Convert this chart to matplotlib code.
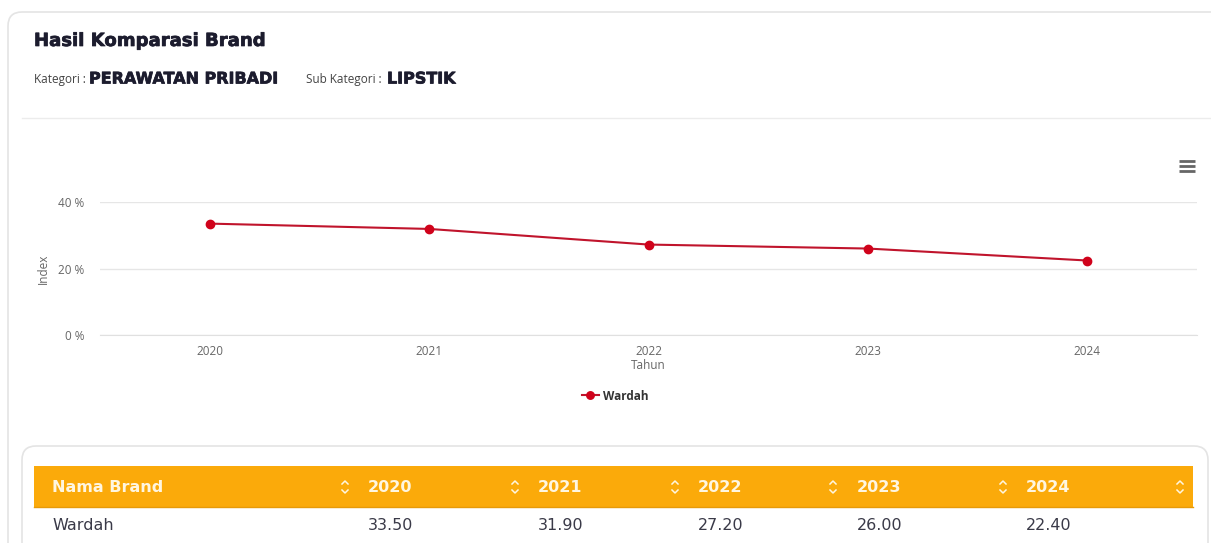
import matplotlib
matplotlib.use("Agg")
import matplotlib.pyplot as plt
import matplotlib.patheffects as pe
from matplotlib.patches import FancyBboxPatch, Rectangle

years = ["2020", "2021", "2022", "2023", "2024"]
brand = "Wardah"
values = [33.50, 31.90, 27.20, 26.00, 22.40]
y_ticks = [0, 20, 40]

W, H = 1211, 543
fig = plt.figure(figsize=(W / 100, H / 100), dpi=100)
fig.patch.set_facecolor("white")

# overlay axes in pixel coordinates for the card decorations and the table
bg = fig.add_axes([0, 0, 1, 1])
bg.set_xlim(0, W)
bg.set_ylim(H, 0)
bg.axis("off")

card = FancyBboxPatch((8, 12), 1300, 600, boxstyle="round,pad=0,rounding_size=14",
                      fc="white", ec="#e4e4e4", lw=1.2)
bg.add_patch(card)
bg.plot([22, 1211], [118, 118], color="#ececec", lw=1)

heavy = [pe.withStroke(linewidth=0.5, foreground="#1c1c2e")]
bg.text(34, 41, "Hasil Komparasi Brand", fontsize=13, fontweight="bold",
        family="DejaVu Sans", color="#1c1c2e", va="center", path_effects=heavy)
bg.text(34, 79, "Kategori : ", fontsize=8.5, family="Open Sans", color="#444", va="center")
bg.text(89, 79, "PERAWATAN PRIBADI", fontsize=11.5, fontweight="bold",
        family="DejaVu Sans", color="#1c1c2e", va="center", path_effects=heavy)
bg.text(306, 79, "Sub Kategori : ", fontsize=8.5, family="Open Sans", color="#444", va="center")
bg.text(387, 79, "LIPSTIK", fontsize=11.5, fontweight="bold",
        family="DejaVu Sans", color="#1c1c2e", va="center", path_effects=heavy)

# hamburger menu
for yy in (161, 166, 171):
    bg.plot([1179, 1195], [yy, yy], color="#666666", lw=2, solid_capstyle="butt")

# chart
ax = fig.add_axes([100 / W, 1 - 335 / H, (1197 - 100) / W, (335 - 202) / H])
xs = list(range(len(years)))
ax.plot(xs, values, color="#c0142c", lw=1.5, marker="o", ms=6,
        mfc="#d0021b", mec="#d0021b", label=brand, zorder=3)
ax.set_xlim(-0.5, len(years) - 0.5)
ax.set_ylim(0, 40)
ax.set_yticks(y_ticks)
ax.set_yticklabels([f"{t} %" for t in y_ticks])
ax.set_xticks(xs)
ax.set_xticklabels(years)
ax.grid(axis="y", color="#e6e6e6", lw=1)
ax.set_axisbelow(True)
for s in ["top", "right", "left"]:
    ax.spines[s].set_visible(False)
ax.spines["bottom"].set_color("#e0e0e0")
ax.tick_params(axis="both", length=0, labelsize=8.5, labelcolor="#666666")
ax.tick_params(axis="x", pad=7)
ax.tick_params(axis="y", pad=11)
for lab in ax.get_xticklabels() + ax.get_yticklabels():
    lab.set_family("Open Sans")
ax.set_xlabel("Tahun", fontsize=8.5, color="#666666", family="Open Sans", labelpad=1)
ax.set_ylabel("Index", fontsize=8.5, color="#666666", family="Open Sans", labelpad=6)
ax.set_facecolor("none")
leg = ax.legend(loc="upper center", bbox_to_anchor=(0.47, -0.33), frameon=False,
                handlelength=1.4, handletextpad=0.4, markerscale=0.9,
                prop={"family": "Open Sans", "weight": "bold", "size": 8.5})
for t in leg.get_texts():
    t.set_color("#333333")

# table card
tcard = FancyBboxPatch((22, 446), 1186, 200, boxstyle="round,pad=0,rounding_size=14",
                       fc="white", ec="#e4e4e4", lw=1.2)
bg.add_patch(tcard)
bg.add_patch(Rectangle((34, 466), 1159, 41, fc="#fbaa0a", ec="none"))
bg.plot([34, 1193], [507, 507], color="#e79a08", lw=1)

header = ["Nama Brand"] + years
col_x = [52, 368, 538, 698, 857, 1026]
icon_x = [345, 515, 675, 833, 1003, 1180]
for hx, htxt in zip(col_x, header):
    bg.text(hx, 487, htxt, fontsize=11.5, fontweight="bold", family="DejaVu Sans",
            color="#fff6e0", va="center")
for ix in icon_x:
    bg.plot([ix - 3, ix, ix + 3], [484, 481, 484], color="#fff6e0", lw=1.1)
    bg.plot([ix - 3, ix, ix + 3], [490, 493, 490], color="#fff6e0", lw=1.1)

row = [brand] + [f"{v:.2f}" for v in values]
for hx, txt in zip(col_x, row):
    bg.text(hx, 525, txt, fontsize=11.5, family="DejaVu Sans", color="#3a3a48", va="center")

fig.savefig("out.png", dpi=100, facecolor="white")
